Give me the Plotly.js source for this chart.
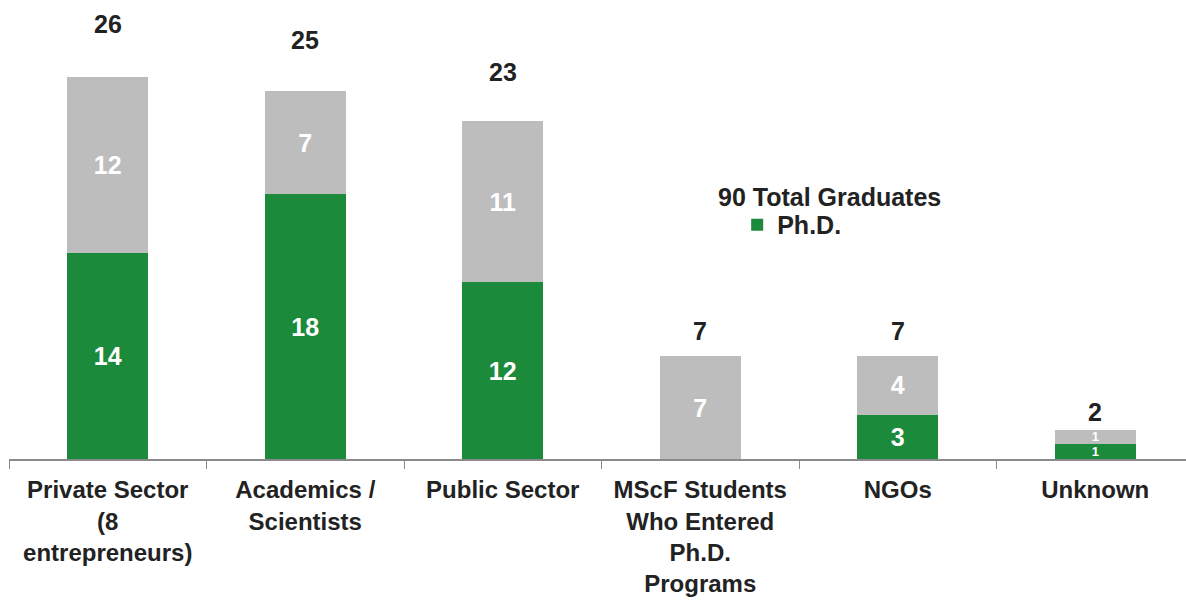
<!DOCTYPE html>
<html>
<head>
<meta charset="utf-8">
<script src="https://cdn.plot.ly/plotly-3.0.1.min.js"></script>
<style>
html,body{margin:0;padding:0;overflow:hidden;background:#fff;}
#chart{width:1194px;height:601px;}
</style>
</head>
<body>
<div id="chart"></div>
<script>
var categories = [
  "Private Sector<br>(8<br>entrepreneurs)",
  "Academics /<br>Scientists",
  "Public Sector",
  "MScF Students<br>Who Entered<br>Ph.D.<br>Programs",
  "NGOs",
  "Unknown"
];
var phdValues = [14, 18, 12, 0, 3, 1];
var otherValues = [12, 7, 11, 7, 4, 1];
var legendTitle = "90 Total Graduates";
var phdName = "Ph.D.";

var totals = phdValues.map(function(v, i){ return v + otherValues[i]; });
var lbl = function(v){ return v > 0 ? String(v) : ""; };
// small segments get a smaller label so it fits inside the bar
var lblSize = function(v){ return v >= 2 ? 25 : 13; };

var FONT = "Liberation Sans, Arial, sans-serif";
var GREEN = "#1c8a3b";
var GRAY = "#bdbdbd";

var traces = [
  {
    type: "bar", name: phdName, x: categories, y: phdValues,
    marker: {color: GREEN},
    text: phdValues.map(lbl), textposition: "inside", insidetextanchor: "middle",
    constraintext: "none", textangle: 0,
    insidetextfont: {family: FONT, size: phdValues.map(lblSize), color: "#ffffff", weight: "bold"},
    hoverinfo: "skip", showlegend: true
  },
  {
    type: "bar", name: "Other", x: categories, y: otherValues,
    marker: {color: GRAY},
    text: otherValues.map(lbl), textposition: "inside", insidetextanchor: "middle",
    constraintext: "none", textangle: 0,
    insidetextfont: {family: FONT, size: otherValues.map(lblSize), color: "#ffffff", weight: "bold"},
    hoverinfo: "skip", showlegend: false
  }
];

var annotations = totals.map(function(t, i){
  return {
    x: categories[i], y: t + 1 + 0.1 * t, xref: "x", yref: "y",
    text: String(t), showarrow: false,
    font: {family: FONT, size: 25, color: "#222222", weight: "bold"}
  };
});
annotations.push({
  x: 0.597, y: 0.57, xref: "paper", yref: "paper", xanchor: "left", yanchor: "middle",
  text: legendTitle, showarrow: false,
  font: {family: FONT, size: 25, color: "#222222", weight: "bold"}
});

var layout = {
  width: 1194, height: 601,
  margin: {l: 9, r: 0, t: 0, b: 142},
  paper_bgcolor: "#ffffff", plot_bgcolor: "#ffffff",
  barmode: "stack", bargap: 0.59,
  font: {family: FONT, color: "#222222"},
  xaxis: {
    showline: true, linecolor: "#8a8a8a", linewidth: 1.5,
    ticks: "outside", tickson: "boundaries", ticklen: 8, tickcolor: "#8a8a8a",
    ticklabelstandoff: 9,
    tickfont: {family: FONT, size: 24, color: "#222222", weight: "bold"},
    showgrid: false, zeroline: false, fixedrange: true
  },
  yaxis: {
    range: [0, 31.2], showgrid: false, zeroline: false, showline: false,
    showticklabels: false, ticks: "", fixedrange: true
  },
  showlegend: true,
  legend: {
    x: 0.6145, y: 0.56, xanchor: "left", yanchor: "top",
    bgcolor: "rgba(0,0,0,0)",
    font: {family: FONT, size: 25, color: "#222222", weight: "bold"}
  },
  annotations: annotations
};

Plotly.newPlot("chart", traces, layout, {displayModeBar: false, staticPlot: true});
</script>
</body>
</html>
